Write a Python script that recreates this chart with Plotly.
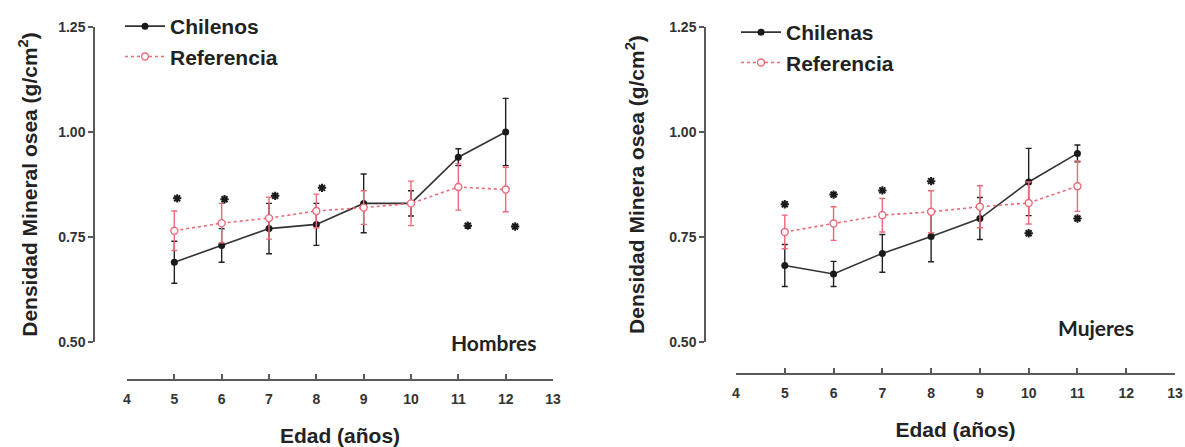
import plotly.graph_objects as go

# ---------------- data ----------------
ages_h = [5, 6, 7, 8, 9, 10, 11, 12]
chilenos = [0.69, 0.73, 0.77, 0.78, 0.83, 0.83, 0.94, 1.00]
chilenos_err = [0.05, 0.04, 0.06, 0.05, 0.07, 0.03, 0.02, 0.08]
ref_h = [0.765, 0.783, 0.795, 0.812, 0.82, 0.83, 0.869, 0.863]
ref_h_err = [0.047, 0.047, 0.05, 0.04, 0.04, 0.053, 0.055, 0.053]
sig_h_x = [5.06, 6.06, 7.13, 8.12, 11.2, 12.2]
sig_h_y = [0.842, 0.840, 0.848, 0.867, 0.777, 0.775]

ages_m = [5, 6, 7, 8, 9, 10, 11]
chilenas = [0.682, 0.662, 0.711, 0.751, 0.794, 0.881, 0.949]
chilenas_err = [0.05, 0.03, 0.045, 0.06, 0.05, 0.08, 0.02]
ref_m = [0.762, 0.782, 0.802, 0.81, 0.822, 0.831, 0.871]
ref_m_err = [0.04, 0.04, 0.04, 0.05, 0.05, 0.05, 0.06]
sig_m_x = [5, 6, 7, 8, 10, 11]
sig_m_y = [0.828, 0.851, 0.861, 0.883, 0.759, 0.794]

x_ticks = [4, 5, 6, 7, 8, 9, 10, 11, 12, 13]
y_ticks = [0.50, 0.75, 1.00, 1.25]
y_ticklabels = ["0.50", "0.75", "1.00", "1.25"]

W, H = 1185, 447
BLACK = "#1a1a1a"
RED = "#ec6a78"
AXIS = "#5a5a5a"
ARIAL = "Liberation Sans, Arial, sans-serif"


def px(x):
    return x / W


def py(y):
    return 1 - y / H


fig = go.Figure()

# ---- Hombres ----
fig.add_trace(go.Scatter(
    x=ages_h, y=chilenos, name="Chilenos", mode="lines+markers",
    line=dict(color="#333333", width=1.6),
    marker=dict(color=BLACK, size=7, symbol="circle"),
    error_y=dict(type="data", array=chilenos_err, color="#222222", thickness=1.4, width=3),
    xaxis="x", yaxis="y", legend="legend"))
fig.add_trace(go.Scatter(
    x=ages_h, y=ref_h, name="Referencia", mode="lines+markers",
    line=dict(color=RED, width=1.6, dash="dot"),
    marker=dict(color="white", size=7, symbol="circle", line=dict(color=RED, width=1.4)),
    error_y=dict(type="data", array=ref_h_err, color=RED, thickness=1.4, width=3),
    xaxis="x", yaxis="y", legend="legend"))
fig.add_trace(go.Scatter(
    x=sig_h_x, y=sig_h_y, mode="markers", showlegend=False,
    marker=dict(symbol="asterisk-open", size=7, color=BLACK, line=dict(color=BLACK, width=2)),
    xaxis="x", yaxis="y", hoverinfo="skip"))

# ---- Mujeres ----
fig.add_trace(go.Scatter(
    x=ages_m, y=chilenas, name="Chilenas", mode="lines+markers",
    line=dict(color="#333333", width=1.6),
    marker=dict(color=BLACK, size=7, symbol="circle"),
    error_y=dict(type="data", array=chilenas_err, color="#222222", thickness=1.4, width=3),
    xaxis="x2", yaxis="y2", legend="legend2"))
fig.add_trace(go.Scatter(
    x=ages_m, y=ref_m, name="Referencia", mode="lines+markers",
    line=dict(color=RED, width=1.6, dash="dot"),
    marker=dict(color="white", size=7, symbol="circle", line=dict(color=RED, width=1.4)),
    error_y=dict(type="data", array=ref_m_err, color=RED, thickness=1.4, width=3),
    xaxis="x2", yaxis="y2", legend="legend2"))
fig.add_trace(go.Scatter(
    x=sig_m_x, y=sig_m_y, mode="markers", showlegend=False,
    marker=dict(symbol="asterisk-open", size=7, color=BLACK, line=dict(color=BLACK, width=2)),
    xaxis="x2", yaxis="y2", hoverinfo="skip"))

tickfont = dict(family=ARIAL, size=14, color="#333333", weight="bold")
titlefont = dict(family=ARIAL, size=21, color="#222222", weight="bold")

xcommon = dict(range=[4, 13], tickvals=x_ticks, showline=True, linecolor=AXIS, linewidth=2,
               ticks="inside", ticklen=5, tickwidth=1.5, tickcolor=AXIS, showgrid=False,
               zeroline=False, tickfont=tickfont, anchor="free", automargin=False,
               ticklabelstandoff=6)
ycommon = dict(range=[0.5, 1.25], tickvals=y_ticks, ticktext=y_ticklabels, showline=True,
               linecolor=AXIS, linewidth=1.5, ticks="outside", ticklen=5, tickwidth=1.5,
               tickcolor=AXIS, showgrid=False, zeroline=False, tickfont=tickfont,
               anchor="free", domain=[py(342), py(27)], automargin=False)

fig.update_layout(
    width=W, height=H, margin=dict(l=0, r=0, t=0, b=0, autoexpand=False),
    plot_bgcolor="white", paper_bgcolor="white",
    xaxis=dict(xcommon, domain=[px(127), px(553)], position=py(380),
               title=dict(text="Edad (años)", font=titlefont, standoff=22)),
    yaxis=dict(ycommon, position=px(94),
               title=dict(text="Densidad Mineral osea (g/cm<sup>2</sup>)", font=titlefont, standoff=14)),
    xaxis2=dict(xcommon, domain=[px(736), px(1175)], position=py(374),
                title=dict(text="Edad (años)", font=titlefont, standoff=22)),
    yaxis2=dict(ycommon, position=px(705),
                title=dict(text="Densidad Minera osea (g/cm<sup>2</sup>)", font=titlefont, standoff=18)),
    legend=dict(x=px(120), y=py(6), xanchor="left", yanchor="top", bgcolor="rgba(0,0,0,0)",
                font=dict(family=ARIAL, size=21, color="#222222", weight="bold"),
                tracegroupgap=0, itemwidth=40),
    legend2=dict(x=px(736), y=py(12), xanchor="left", yanchor="top", bgcolor="rgba(0,0,0,0)",
                 font=dict(family=ARIAL, size=21, color="#222222", weight="bold"),
                 tracegroupgap=0, itemwidth=40),
    annotations=[
        dict(text="Hombres", x=px(493), y=py(342), xref="paper", yref="paper",
             xanchor="center", yanchor="middle",
             showarrow=False, font=dict(family="Lato", size=21, color="#222222", weight="bold")),
        dict(text="Mujeres", x=px(1096), y=py(327), xref="paper", yref="paper",
             xanchor="center", yanchor="middle",
             showarrow=False, font=dict(family="Lato", size=21, color="#222222", weight="bold")),
    ],
)

fig.write_html("out.html", config={"displayModeBar": False},
               post_script="document.body.style.margin='0';")
